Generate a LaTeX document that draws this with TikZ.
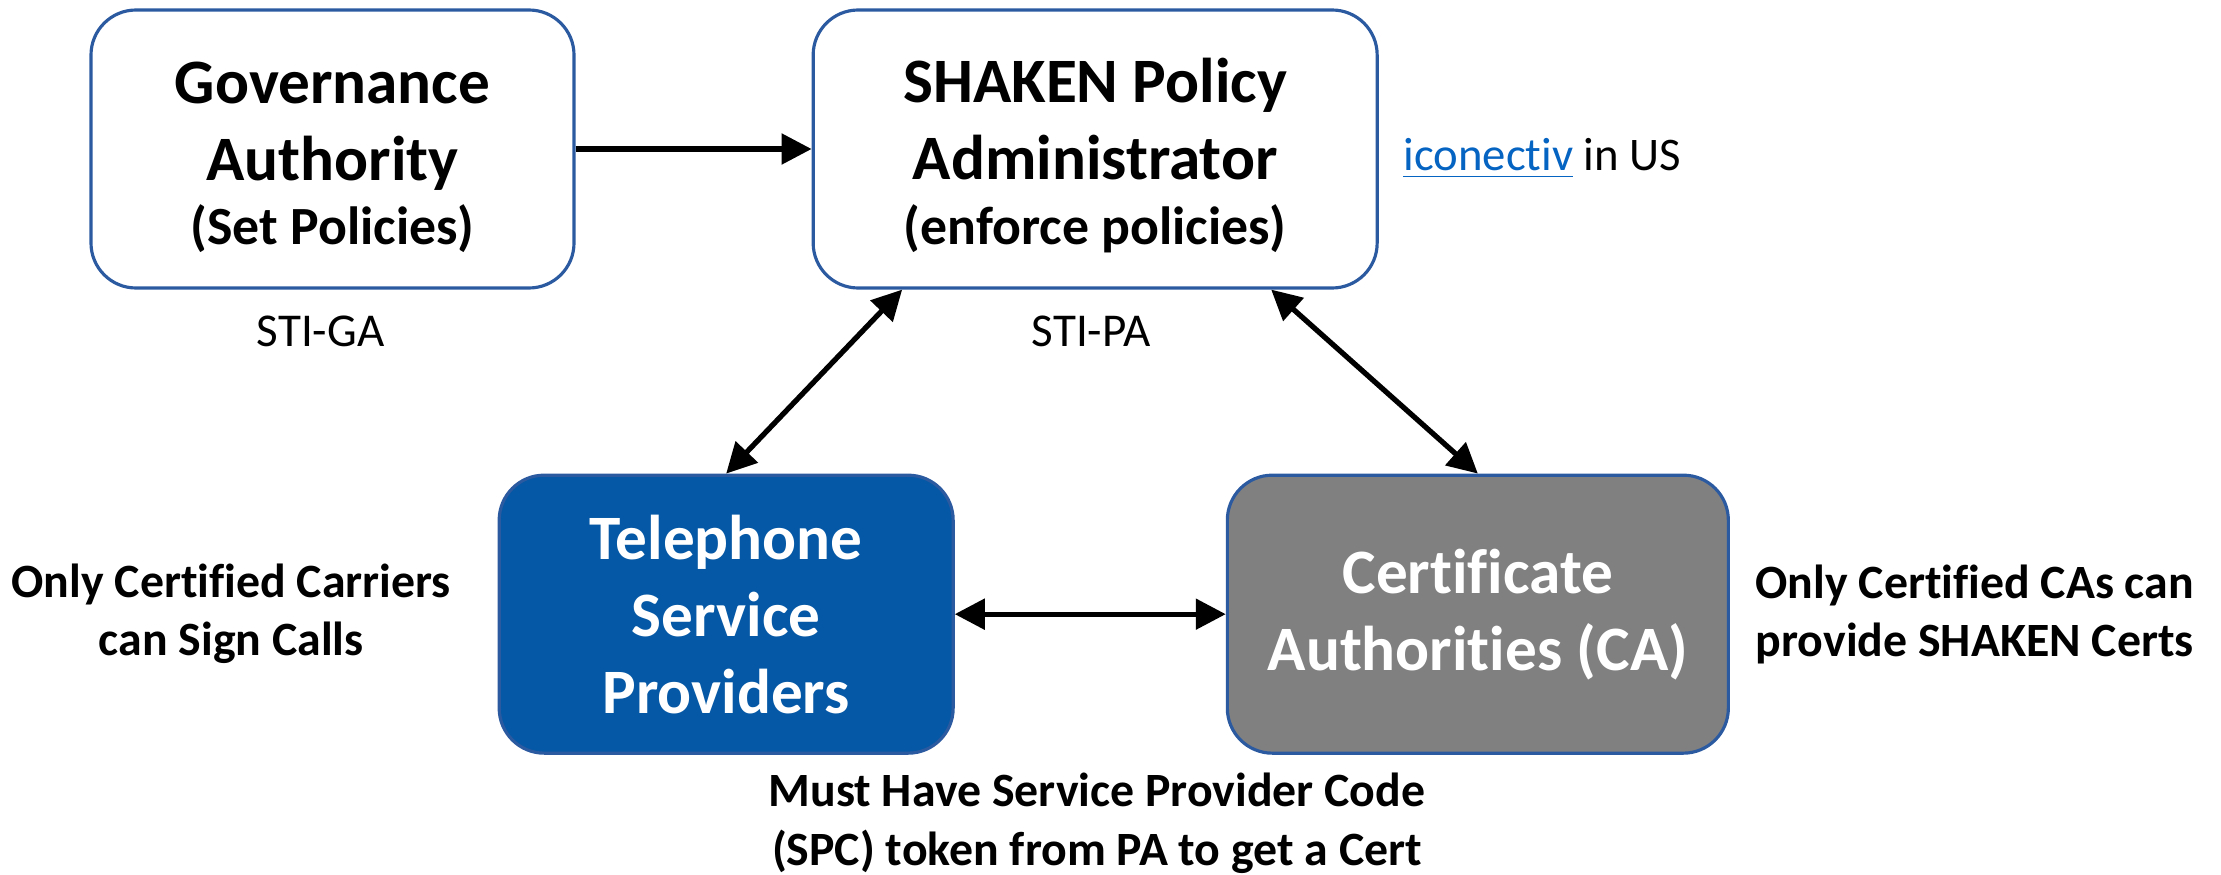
\documentclass[tikz,border=0pt]{standalone}
\usepackage{fontspec}
\setmainfont{Carlito}[Ligatures=NoCommon]
\usepackage{tikz}
\usetikzlibrary{arrows.meta,positioning,calc}
\definecolor{spborder}{RGB}{44,90,160}
\definecolor{sptsp}{RGB}{5,88,165}
\definecolor{spgray}{RGB}{128,128,128}
\definecolor{splink}{RGB}{5,99,193}
\tikzstyle{rolebox} = [rectangle, rounded corners=0.45cm, minimum height=2.78cm, text centered, align=center, draw=spborder, line width=0.9pt, inner sep=0pt, font=\fontsize{18}{21.9}\selectfont\bfseries]
\tikzstyle{arrow} = [line width=1.5pt, -{Triangle[length=0.3cm,width=0.3cm]}]
\tikzstyle{dblarrow} = [line width=1.5pt, {Triangle[length=0.3cm,width=0.3cm]}-{Triangle[length=0.3cm,width=0.3cm]}]
\tikzstyle{note} = [align=center, inner sep=0pt, font=\fontsize{13.6}{16.5}\selectfont\bfseries]
\tikzstyle{tag} = [inner sep=0pt, font=\fontsize{13.4}{16}\selectfont]
\newcommand{\subline}[1]{{\fontsize{15.3}{18}\selectfont #1}}
\newcommand{\topstrut}{\rule{0pt}{16.5pt}}

\begin{document}
\begin{tikzpicture}
\useasboundingbox (0,0) rectangle (22.21,8.74);
% Policy bodies
\node[rolebox, minimum width=4.83cm] (ga) at (3.325,7.25) {\topstrut Governance\\Authority\\[-3.5pt]\subline{(Set Policies)}};
\node[rolebox, minimum width=5.64cm, right=2.36cm of ga] (pa) {\topstrut SHAKEN Policy\\Administrator\\[-3.5pt]\subline{(enforce policies)}};

\node[tag, anchor=base] (stiga) at ([xshift=-0.12cm,yshift=-0.57cm]ga.south) {STI-GA};
\node[tag, anchor=base] (stipa) at ([xshift=-0.04cm,yshift=-0.57cm]pa.south) {STI-PA};
\node[tag, anchor=base west, font=\fontsize{13.3}{16}\selectfont] (iconectiv) at ([xshift=0.24cm,yshift=-0.22cm]pa.east) {\textcolor{splink}{\underline{iconectiv}} in US};

% Providers and CAs
\node[rolebox, minimum width=4.54cm, fill=sptsp, text=white, below=1.84cm of pa, xshift=-3.69cm] (tsp) {Telephone\\Service\\Providers};
\node[rolebox, minimum width=5.01cm, fill=spgray, text=white, right=2.71cm of tsp] (ca) {Certificate\\Authorities (CA)};

\node[note, left=0.46cm of tsp] (carriers) {Only Certified Carriers\\can Sign Calls};
\node[note, right=0.25cm of ca] (cas) {Only Certified CAs can\\provide SHAKEN Certs};
\node[note, font=\fontsize{13.6}{16.6}\selectfont\bfseries, anchor=north] (spc) at ($(tsp.south)!0.5!(ca.south)+(-0.05,-0.18)$) {Must Have Service Provider Code\\(SPC) token from PA to get a Cert};

\draw[arrow] (ga) -- (pa);
\draw[dblarrow] ([xshift=-1.93cm]pa.south) -- (tsp.north);
\draw[dblarrow] ([xshift=1.76cm]pa.south) -- (ca.north);
\draw[dblarrow] (tsp) -- (ca);
\end{tikzpicture}
\end{document}
